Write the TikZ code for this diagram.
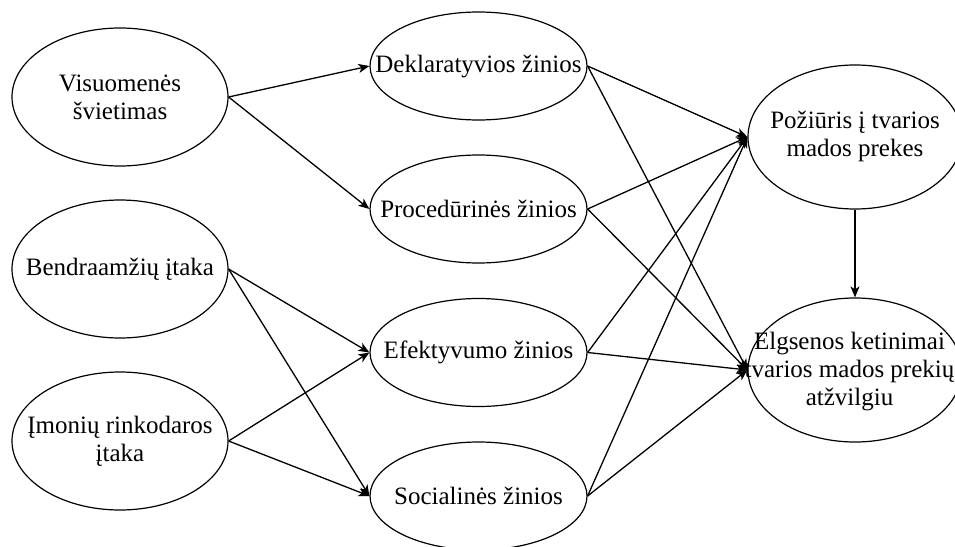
\documentclass[tikz,border=0pt]{standalone}
\usepackage{fontspec}
\setmainfont{Liberation Serif}
\usetikzlibrary{shapes.geometric,arrows.meta}
\begin{document}
\begin{tikzpicture}[x=1pt,y=-1pt,
  oval/.style={ellipse,draw=black,line width=1.2pt,inner sep=0pt},
  leftoval/.style={oval,minimum width=216pt,minimum height=138pt},
  midoval/.style={oval,minimum width=217pt,minimum height=108pt},
  rightoval/.style={oval,minimum width=214pt,minimum height=144pt},
  lbl/.style={align=center,inner sep=0pt,text=black,font=\fontsize{25}{28}\selectfont},
  link/.style={draw=black,line width=1.3pt,-{Stealth[length=11pt,width=9pt,inset=3pt]}}
]
\useasboundingbox (0,0) rectangle (955,546);

% first column: sources
\node[leftoval] (vis)  at (120,97)  {};
\node[leftoval] (bend) at (120,269) {};
\node[leftoval] (imon) at (120,441) {};
% second column: kinds of knowledge
\node[midoval] (dek)  at (478.5,66)  {};
\node[midoval] (proc) at (478.5,209) {};
\node[midoval] (efek) at (478.5,352.5) {};
\node[midoval] (soc)  at (478.5,496) {};
% third column: outcomes
\node[rightoval] (poz) at (855,137) {};
\node[rightoval] (elg) at (855,370) {};

% texts
\node[lbl] (tvis)  at (vis)  {Visuomenės\\švietimas};
\node[lbl] (tbend) at (bend) {Bendraamžių įtaka};
\node[lbl] (timon) at (imon) {Įmonių rinkodaros\\įtaka};
\node[lbl] (tdek)  at (dek)  {Deklaratyvios žinios};
\node[lbl] (tproc) at (proc) {Procedūrinės žinios};
\node[lbl] (tefek) at (efek) {Efektyvumo žinios};
\node[lbl] (tsoc)  at (soc)  {Socialinės žinios};
\node[lbl] (tpoz)  at ([yshift=1pt]poz.center) {Požiūris į tvarios\\mados prekes};
\node[lbl] (telg)  at ([xshift=-5.5pt,yshift=-2pt]elg.center) {Elgsenos ketinimai\\tvarios mados prekių\\atžvilgiu};

% connectors
\draw[link] (vis.east) -- (dek.west);
\draw[link] (vis.east) -- (proc.west);
\draw[link] (bend.east) -- (efek.west);
\draw[link] (bend.east) -- (soc.west);
\draw[link] (imon.east) -- (efek.west);
\draw[link] (imon.east) -- (soc.west);
\foreach \s in {dek,proc,efek,soc}{
  \draw[link] (\s.east) -- (poz.west);
  \draw[link] (\s.east) -- (elg.west);
}
\draw[link] (poz.south) -- (elg.north);
\end{tikzpicture}
\end{document}
